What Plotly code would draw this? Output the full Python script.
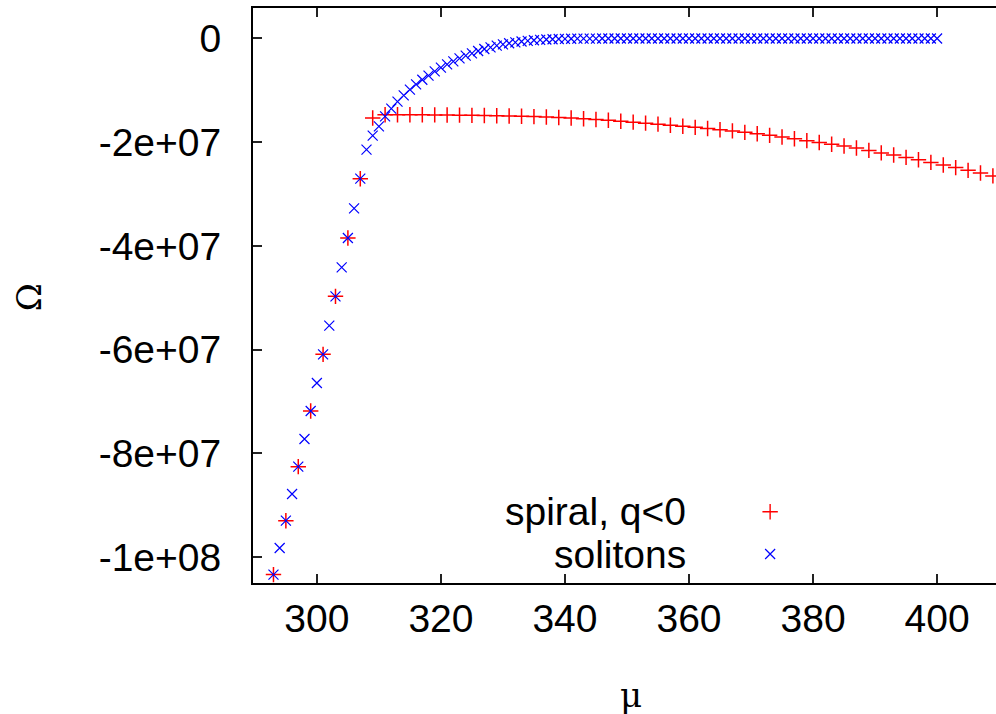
import plotly.graph_objects as go

# ---------------- data ----------------
spiral_mu = [293, 295, 297, 299, 301, 303, 305, 307, 309, 311, 313, 315, 317, 319,
             321, 323, 325, 327, 329, 331, 333, 335, 337, 339, 341, 343, 345, 347,
             349, 351, 353, 355, 357, 359, 361, 363, 365, 367, 369, 371, 373, 375,
             377, 379, 381, 383, 385, 387, 389, 391, 393, 395, 397, 399, 401, 403,
             405, 407, 409]
spiral_omega = [-1.034e8, -9.30e7, -8.258e7, -7.185e7, -6.092e7, -4.973e7, -3.848e7,
                -2.704e7, -1.533e7, -1.470e7, -1.470e7, -1.470e7, -1.472e7, -1.474e7,
                -1.476e7, -1.479e7, -1.482e7, -1.486e7, -1.490e7, -1.495e7, -1.500e7,
                -1.507e7, -1.514e7, -1.523e7, -1.535e7, -1.548e7, -1.562e7, -1.578e7,
                -1.596e7, -1.614e7, -1.633e7, -1.652e7, -1.672e7, -1.692e7, -1.714e7,
                -1.737e7, -1.759e7, -1.782e7, -1.810e7, -1.838e7, -1.868e7, -1.900e7,
                -1.934e7, -1.970e7, -2.006e7, -2.040e7, -2.075e7, -2.113e7, -2.158e7,
                -2.207e7, -2.248e7, -2.293e7, -2.340e7, -2.390e7, -2.440e7, -2.490e7,
                -2.543e7, -2.595e7, -2.650e7]

soliton_mu = [293, 294, 295, 296, 297, 298, 299, 300, 301, 302, 303, 304, 305, 306,
              307, 308, 309, 310, 311, 312, 313, 314, 315, 316, 317, 318, 319, 320,
              321, 322, 323, 324, 325, 326, 327, 328, 329, 330, 331, 332, 333, 334,
              335, 336, 337, 338, 339, 340, 341, 342, 343, 344, 345, 346, 347, 348,
              349, 350, 351, 352, 353, 354, 355, 356, 357, 358, 359, 360, 361, 362,
              363, 364, 365, 366, 367, 368, 369, 370, 371, 372, 373, 374, 375, 376,
              377, 378, 379, 380, 381, 382, 383, 384, 385, 386, 387, 388, 389, 390,
              391, 392, 393, 394, 395, 396, 397, 398, 399, 400]
soliton_omega = [-1.034e8, -9.827e7, -9.30e7, -8.785e7, -8.258e7, -7.725e7, -7.185e7,
                 -6.645e7, -6.092e7, -5.539e7, -4.973e7, -4.414e7, -3.848e7, -3.277e7,
                 -2.704e7, -2.145e7, -1.875e7, -1.695e7, -1.502e7, -1.354e7, -1.219e7,
                 -1.097e7, -9.87e6, -8.85e6, -7.95e6, -7.17e6, -6.34e6, -5.63e6,
                 -4.99e6, -4.42e6, -3.84e6, -3.32e6, -2.87e6, -2.42e6, -2.03e6,
                 -1.72e6, -1.39e6, -1.14e6, -9.2e5, -7.4e5, -5.8e5, -4.5e5,
                 -3.4e5, -2.6e5, -1.9e5, -1.4e5, -1.0e5, -7.0e4, -5.0e4, -3.5e4,
                 -2.5e4, -1.8e4, -1.2e4, -8.0e3, -5.0e3, -3.0e3, -2.0e3, -1.0e3,
                 0, 0, 0, 0, 0, 0, 0, 0, 0, 0, 0, 0, 0, 0, 0, 0, 0, 0, 0, 0, 0, 0,
                 0, 0, 0, 0, 0, 0, 0, 0, 0, 0, 0, 0, 0, 0, 0, 0, 0, 0, 0, 0, 0, 0,
                 0, 0, 0, 0, 0, 0, 0, 0]

x_ticks = [300, 320, 340, 360, 380, 400]
y_ticks = [0, -2e7, -4e7, -6e7, -8e7, -1e8]
y_tick_labels = ["0", "-2e+07", "-4e+07", "-6e+07", "-8e+07", "-1e+08"]
series_names = ["spiral, q<0", "solitons"]

# ---------------- style ----------------
RED = "#ff0000"
BLUE = "#0000ff"
FONT = "Liberation Sans, Arial, sans-serif"
FS = 39

fig = go.Figure()
fig.add_trace(go.Scatter(
    x=spiral_mu, y=spiral_omega, mode="markers", name=series_names[0],
    marker=dict(symbol="cross-thin", size=11, line=dict(color=RED, width=1.5)),
    showlegend=False))
fig.add_trace(go.Scatter(
    x=soliton_mu, y=soliton_omega, mode="markers", name=series_names[1],
    marker=dict(symbol="x-thin", size=10, line=dict(color=BLUE, width=1.2)),
    showlegend=False))

# legend samples on an overlay paper-like axis
LEG_SYM_X = 0.696
LEG_Y = [0.124, 0.0504]
LEG_TEXT_X = 0.5855
fig.add_trace(go.Scatter(
    x=[LEG_SYM_X], y=[LEG_Y[0]], xaxis="x2", yaxis="y2", mode="markers",
    marker=dict(symbol="cross-thin", size=11, line=dict(color=RED, width=1.4)),
    showlegend=False, hoverinfo="skip"))
fig.add_trace(go.Scatter(
    x=[LEG_SYM_X], y=[LEG_Y[1]], xaxis="x2", yaxis="y2", mode="markers",
    marker=dict(symbol="x-thin", size=10, line=dict(color=BLUE, width=1.2)),
    showlegend=False, hoverinfo="skip"))

for name, yy in zip(series_names, LEG_Y):
    fig.add_annotation(text=name, xref="paper", yref="paper", x=LEG_TEXT_X, y=yy,
                       xanchor="right", yanchor="middle", showarrow=False,
                       font=dict(family=FONT, size=FS, color="black"))

# axis titles
fig.add_annotation(text="Ω", xref="paper", yref="paper", x=-0.3015, y=0.497,
                   xanchor="center", yanchor="middle", textangle=-90, showarrow=False,
                   font=dict(family="DejaVu Serif, Liberation Serif, serif", size=34, color="black"))
fig.add_annotation(text="μ", xref="paper", yref="paper", x=0.5087, y=-0.195,
                   xanchor="center", yanchor="middle", showarrow=False,
                   font=dict(family="DejaVu Serif, Liberation Serif, serif", size=34, color="black"))

fig.update_layout(
    width=996, height=714,
    margin=dict(l=253, r=0, t=8, b=131),
    paper_bgcolor="white", plot_bgcolor="white",
    font=dict(family=FONT, size=FS, color="black"),
    xaxis=dict(range=[289.7, 409.5], tickvals=x_ticks, ticks="inside", ticklen=9,
               tickwidth=1.5, tickcolor="#222", showline=True, linecolor="black",
               linewidth=2, mirror="ticks", showgrid=False, zeroline=False,
               ticklabelstandoff=0, tickfont=dict(family=FONT, size=FS)),
    yaxis=dict(range=[-1.0502e8, 5.88e6], tickvals=y_ticks, ticktext=y_tick_labels,
               ticks="inside", ticklen=9, tickwidth=1.5, tickcolor="#222",
               showline=True, linecolor="black", linewidth=2, mirror=False,
               showgrid=False, zeroline=False, ticklabelstandoff=22,
               tickfont=dict(family=FONT, size=FS)),
    xaxis2=dict(range=[0, 1], overlaying="x", visible=False, fixedrange=True),
    yaxis2=dict(range=[0, 1], overlaying="y", visible=False, fixedrange=True),
)

# remove the default page margin so the 996x714 figure fills the window exactly
fig.write_html(
    "out.html",
    config={"displayModeBar": False},
    post_script="document.body.style.margin='0';document.body.style.overflow='hidden';",
)
